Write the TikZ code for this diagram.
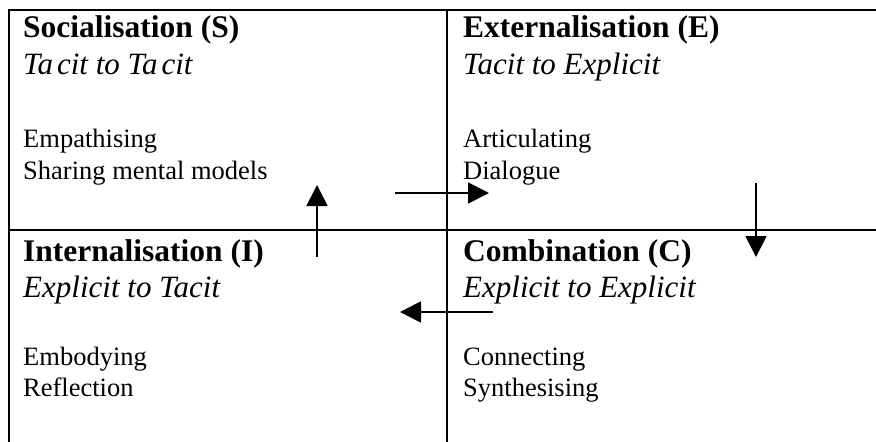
\documentclass[tikz,border=0pt]{standalone}
\usepackage{fontspec}
\setmainfont{Liberation Serif}
\usetikzlibrary{arrows.meta}
\tikzset{
  grid/.style={line width=2pt},
  flow/.style={line width=1.8pt,-{Triangle[length=21pt,width=21pt]}},
  head/.style={anchor=base west,inner sep=0pt,font=\fontsize{31.5}{37}\selectfont\bfseries},
  mode/.style={anchor=base west,inner sep=0pt,font=\fontsize{31}{37}\selectfont\itshape},
  body/.style={anchor=base west,inner sep=0pt,font=\fontsize{26.5}{31}\selectfont},
}
\begin{document}
\begin{tikzpicture}[x=1pt,y=-1pt]
\useasboundingbox (0,0) rectangle (876,442);
% grid lines
\coordinate (tl) at (9,10);
\coordinate (tr) at (876,10);
\coordinate (bl) at (9,442);
\coordinate (ml) at (9,230);
\coordinate (mr) at (876,230);
\coordinate (mt) at (447,10);
\coordinate (mb) at (447,442);
\draw[grid] (8,10) -- (tr);
\draw[grid] (tl) -- (bl);
\draw[grid] (ml) -- (mr);
\draw[grid] (mt) -- (mb);
% Socialisation
\node[head] (sh) at (23,37) {Socialisation (S)};
\node[mode] (sm) at (23,74) {Ta\kern4pt cit to Ta\kern4pt cit};
\node[body] (s1) at (23,147) {Empathising};
\node[body] (s2) at (23,179) {Sharing mental models};
% Externalisation
\node[head] (eh) at (463,37) {Externalisation (E)};
\node[mode] (em) at (463,74) {Tacit to Explicit};
\node[body] (e1) at (463,147) {Articulating};
\node[body] (e2) at (463,179) {Dialogue};
% Internalisation
\node[head] (ih) at (23,261) {Internalisation (I)};
\node[mode] (im) at (23,297) {Explicit to Tacit};
\node[body] (i1) at (23,365) {Embodying};
\node[body] (i2) at (23,396) {Reflection};
% Combination
\node[head] (ch) at (463,261) {Combination (C)};
\node[mode] (cm) at (463,297) {Explicit to Explicit};
\node[body] (c1) at (463,365) {Connecting};
\node[body] (c2) at (463,396) {Synthesising};
% arrows
\coordinate (a1s) at (317,257); \coordinate (a1e) at (317,185);
\coordinate (a2s) at (395,193); \coordinate (a2e) at (489,193);
\coordinate (a3s) at (756,183); \coordinate (a3e) at (756,257);
\coordinate (a4s) at (493,312); \coordinate (a4e) at (400,312);
\draw[flow] (a1s) -- (a1e);
\draw[flow] (a2s) -- (a2e);
\draw[flow] (a3s) -- (a3e);
\draw[flow] (a4s) -- (a4e);
\end{tikzpicture}
\end{document}
